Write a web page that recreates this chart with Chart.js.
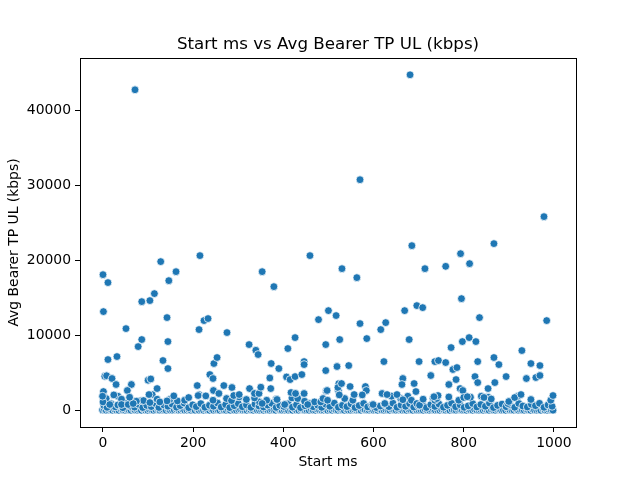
<!DOCTYPE html>
<html>
<head>
<meta charset="utf-8">
<title>Start ms vs Avg Bearer TP UL (kbps)</title>
<script src="https://cdn.jsdelivr.net/npm/chart.js@4.4.1/dist/chart.umd.min.js"></script>
<style>
  html, body { margin: 0; padding: 0; background: #fff; }
  canvas { display: block; }
</style>
</head>
<body>
<canvas id="scatter" width="640" height="480"></canvas>
<script>
(function () {
  'use strict';

  var chartTitle = 'Start ms vs Avg Bearer TP UL (kbps)';
  var xTicks = [0, 200, 400, 600, 800, 1000];
  var yTicks = [0, 10000, 20000, 30000, 40000];

  // [start ms, kbps] — the points standing clear of the floor
  var peakPoints = [
    [71,42760],[681,44760],[570,30760],[978,25830],
    [0,18090],[11,17030],[1,13160],[128,19830],[162,18490],[146,17290],[215,20630],[114,15560],
    [86,14490],[104,14630],[142,12360],[51,10890],[86,9430],[78,8490],[144,9160],[11,6760],
    [31,7160],[133,6630],[144,5560],[213,10760],[224,11960],[233,12230],[275,10360],[353,18490],
    [379,16490],[459,20630],[478,12090],[500,13290],[494,8760],[324,8760],[339,8000],[344,7430],
    [426,9690],[410,8230],[373,6230],[390,5560],[446,6490],[446,6090],[407,4440],[415,4090],
    [426,4490],[441,4760],[494,5290],[495,2570],[246,6230],[253,7030],[237,4760],[244,4230],
    [209,3290],[245,2630],[268,3290],[286,3030],[257,2230],[4,4530],[8,4600],[20,4230],
    [29,3430],[63,3430],[54,2630],[100,4000],[106,4170],[120,2890],[1,2490],[-1,1870],
    [24,2040],[59,1730],[102,2090],[157,1910],[190,1690],[211,1960],[228,1910],[290,1960],
    [302,2090],[325,2890],[336,2230],[346,2230],[350,3070],[372,2890],[417,2360],[427,2230],
    [446,2230],[386,1430],[370,4300],
    [685,21960],[867,22230],[793,20890],[813,19560],[760,19200],[714,18890],[530,18890],[563,17690],
    [795,14890],[517,12630],[696,13960],[709,13690],[669,13290],[835,12360],[984,11960],[570,11560],
    [627,11690],[616,10760],[525,9430],[585,9560],[679,9430],[812,9690],[797,9160],[827,9160],
    [772,8360],[929,7960],[519,5830],[545,5960],[623,6490],[701,6490],[736,6490],[744,6630],
    [760,6360],[776,5430],[785,5690],[831,6490],[867,7030],[878,6090],[949,6230],[969,5960],
    [727,4630],[825,4490],[831,3690],[894,4490],[939,4230],[960,4360],[969,4630],[869,3690],
    [665,4230],[663,3430],[690,3560],[694,2490],[783,4090],[767,3430],[792,2890],[798,2630],
    [854,2890],[523,3560],[521,3030],[524,2040],[548,3160],[582,3160],[584,2630],[575,2040],
    [557,2090],[497,2630],[619,2230],[630,2090],[652,2090],[665,1400],[743,1960],[734,1800],
    [800,1700],[808,1800],[845,1700],[861,1500],[900,1160],[913,1690],[927,2090],[949,1430],
    [998,1960],[529,3560]
  ];

  // the second layer, roughly 300 to 2000 kbps
  var lowPoints = [
    [2,620],[9,380],[18,860],[27,450],[33,700],[44,330],[52,920],[61,540],[70,410],[79,780],
    [88,350],[97,640],[107,480],[116,900],[124,360],[135,700],[144,520],[153,820],[163,400],[171,610],
    [180,950],[190,340],[199,720],[207,480],[217,880],[226,390],[236,660],[245,530],[254,960],[262,420],
    [272,740],[281,350],[291,600],[300,880],[309,460],[318,700],[328,380],[337,820],[346,560],[356,430],
    [365,690],[374,930],[384,370],[392,640],[401,500],[411,860],[420,410],[429,720],[438,340],[448,590],
    [457,900],[466,460],[476,680],[485,380],[494,800],[503,520],[513,940],[522,400],[531,660],[541,480],
    [550,850],[559,350],[568,620],[578,900],[587,440],[596,700],[606,360],[615,560],[624,820],[634,470],
    [643,940],[652,390],[661,690],[671,520],[680,870],[689,420],[699,610],[708,950],[717,360],[727,740],
    [736,500],[745,830],[755,400],[764,650],[773,920],[782,460],[792,710],[801,380],[810,580],[820,880],
    [829,430],[838,760],[848,520],[857,950],[866,350],[875,640],[885,820],[894,470],[903,700],[913,390],
    [922,900],[931,560],[941,430],[950,780],[959,600],[968,920],[978,380],[987,700],[996,520],
    [33,1870],[109,2090],[213,2090],[148,1430],[142,1240],[120,1470],[85,1290],[90,1290],[74,1200],
    [41,1470],[7,1560],[0,1100],[15,760],[41,760],[56,760],[67,890],[104,1020],[126,1100],[165,1240],
    [181,1330],[302,1770],[363,1330],[384,1470],[419,1640],[432,1560],[469,1110],[244,1330],[274,1560],
    [285,1290],[318,1430],[347,1100],[353,900],[403,760],[447,1200],[454,760],[483,1100],[522,2650],
    [536,1560],[488,1560],[498,1330],[554,1330],[640,1870],[660,1560],[676,1870],[684,1330],[696,890],
    [702,670],[710,1470],[732,1600],[736,1330],[599,760],[625,900],[767,1770],[740,1560],[789,1330],
    [803,1870],[815,1740],[839,1870],[854,1740],[898,890],[920,1870],[993,1330],[336,1640]
  ];

  // the solid band sitting on zero
  var floorPoints = [
    [-1,40],[3,120],[7,0],[12,60],[16,150],[21,0],[26,90],[30,20],[35,0],[40,130],[44,50],[49,0],
    [53,100],[58,10],[62,0],[67,140],[71,30],[76,0],[80,80],[85,0],[90,160],[94,20],[99,0],[103,110],
    [108,40],[112,0],[117,70],[122,150],[126,0],[131,30],[135,90],[140,0],[145,120],[149,10],[154,0],
    [158,60],[163,140],[168,0],[172,40],[177,100],[181,0],[186,20],[190,130],[195,0],[200,70],[204,10],
    [209,150],[213,0],[218,50],[223,0],[227,110],[232,30],[236,0],[241,140],[245,0],[250,60],[255,20],
    [259,0],[264,120],[268,40],[273,0],[278,90],[282,0],[287,150],[291,10],[296,0],[301,70],[305,130],
    [310,0],[314,30],[319,0],[324,100],[328,50],[333,0],[337,160],[342,20],[347,0],[351,80],[356,0],
    [360,120],[365,40],[370,0],[374,90],[379,10],[383,0],[388,140],[393,60],[397,0],[402,30],[406,110],
    [411,0],[416,50],[420,0],[425,150],[429,20],[434,0],[439,80],[443,130],[448,0],[452,40],[457,0],
    [462,100],[466,10],[471,0],[475,140],[480,60],[485,0],[489,30],[494,120],[498,0],[503,70],[508,0],
    [512,150],[517,20],[521,0],[526,90],[531,40],[535,0],[540,130],[544,10],[549,0],[554,60],[558,110],
    [563,0],[567,30],[572,0],[577,140],[581,80],[586,0],[590,20],[595,100],[600,0],[604,50],[609,0],
    [613,150],[618,30],[623,0],[627,90],[632,10],[636,0],[641,120],[646,60],[650,0],[655,40],[659,140],
    [664,0],[669,20],[673,0],[678,100],[682,70],[687,0],[692,130],[696,10],[701,0],[705,50],[710,0],
    [714,160],[719,30],[724,0],[728,90],[733,110],[737,0],[742,20],[747,0],[751,140],[756,60],[760,0],
    [765,40],[769,0],[774,120],[779,10],[783,0],[788,80],[792,150],[797,0],[801,30],[806,0],[811,100],
    [815,50],[820,0],[824,130],[829,20],[834,0],[838,70],[843,0],[847,140],[852,40],[856,0],[861,110],
    [866,10],[870,0],[875,90],[879,150],[884,0],[888,30],[893,0],[898,120],[902,60],[907,0],[911,20],
    [916,140],[921,0],[925,80],[930,10],[934,0],[939,100],[943,50],[948,0],[953,130],[957,30],[962,0],
    [966,70],[971,0],[976,150],[980,20],[985,0],[989,110],[994,40],[998,0]
  ];

  var FONT = 'DejaVu Sans, sans-serif';

  function toXY(list) {
    return list.map(function (p) { return { x: p[0], y: p[1] }; });
  }

  // axes box + title centred on the plot area, like matplotlib does
  var frame = {
    id: 'frame',
    afterDraw: function (chart) {
      var a = chart.chartArea;
      var ctx = chart.ctx;
      ctx.save();
      ctx.strokeStyle = '#000';
      ctx.lineWidth = 1;
      ctx.strokeRect(Math.round(a.left) + 0.5, Math.round(a.top) + 0.5,
        Math.round(a.right - a.left), Math.round(a.bottom - a.top));
      ctx.fillStyle = '#000';
      ctx.font = '16.7px ' + FONT;
      ctx.textAlign = 'center';
      ctx.textBaseline = 'alphabetic';
      ctx.fillText(chartTitle, (a.left + a.right) / 2, a.top - 9);
      ctx.restore();
    }
  };

  new Chart(document.getElementById('scatter'), {
    type: 'scatter',
    data: {
      datasets: [{
        label: 'Avg Bearer TP UL (kbps)',
        data: toXY(floorPoints.concat(lowPoints, peakPoints)),
        backgroundColor: '#1f77b4',
        borderColor: '#ffffff',
        borderWidth: 0.75,
        pointRadius: 3.9,
        pointHoverRadius: 3.9
      }]
    },
    options: {
      responsive: false,
      animation: false,
      devicePixelRatio: 1,
      layout: { padding: { left: 0, right: 64, top: 58, bottom: 0 } },
      plugins: {
        legend: { display: false },
        tooltip: { enabled: false },
        title: { display: false }
      },
      scales: {
        x: {
          type: 'linear',
          min: -51,
          max: 1049,
          afterFit: function (s) { s.height = 53; },
          afterBuildTicks: function (s) { s.ticks = xTicks.map(function (v) { return { value: v }; }); },
          grid: { display: true, drawOnChartArea: false, drawTicks: true, tickLength: 5, color: '#000' },
          border: { display: false },
          ticks: {
            color: '#000', padding: 3, maxRotation: 0,
            font: { family: FONT, size: 13.9 },
            callback: function (v) { return String(v); }
          },
          title: {
            display: true, text: 'Start ms', color: '#000',
            font: { family: FONT, size: 13.9 },
            padding: { top: 0, bottom: 9 }
          }
        },
        y: {
          type: 'linear',
          min: -2240,
          max: 47000,
          afterFit: function (s) { s.width = 80; },
          afterBuildTicks: function (s) { s.ticks = yTicks.map(function (v) { return { value: v }; }); },
          grid: { display: true, drawOnChartArea: false, drawTicks: true, tickLength: 5, color: '#000' },
          border: { display: false },
          ticks: {
            color: '#000', padding: 4,
            font: { family: FONT, size: 13.9 },
            callback: function (v) { return String(v); }
          },
          title: {
            display: true, text: 'Avg Bearer TP UL (kbps)', color: '#000',
            font: { family: FONT, size: 13.9 },
            padding: { top: 6, bottom: 0 }
          }
        }
      }
    },
    plugins: [frame]
  });
})();
</script>
</body>
</html>
